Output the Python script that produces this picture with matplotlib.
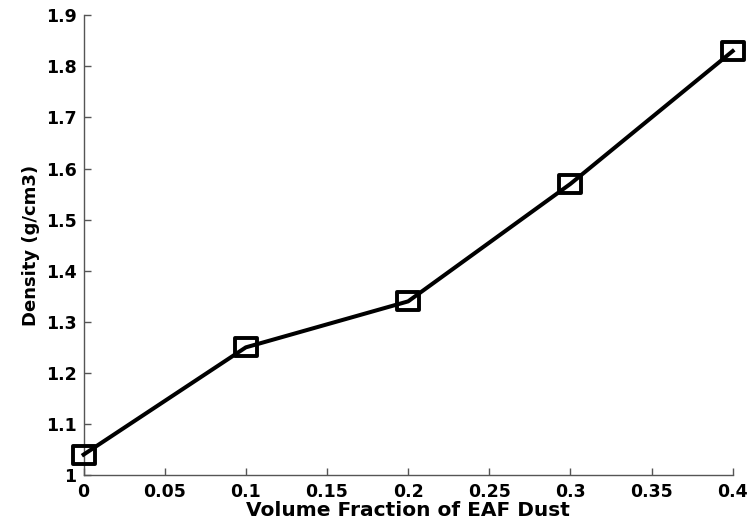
import matplotlib
matplotlib.use('Agg')
import matplotlib.pyplot as plt
from matplotlib.path import Path
from matplotlib.markers import MarkerStyle

plt.rcParams['font.family'] = ['DejaVu Sans']
plt.rcParams['font.weight'] = 'bold'

# --- data ---
volume_fraction = [0.0, 0.1, 0.2, 0.3, 0.4]
density = [1.04, 1.25, 1.34, 1.57, 1.83]
x_ticks = [0, 0.05, 0.1, 0.15, 0.2, 0.25, 0.3, 0.35, 0.4]
x_tick_labels = ['0', '0.05', '0.1', '0.15', '0.2', '0.25', '0.3', '0.35', '0.4']
y_ticks = [1.0, 1.1, 1.2, 1.3, 1.4, 1.5, 1.6, 1.7, 1.8, 1.9]
y_tick_labels = ['1', '1.1', '1.2', '1.3', '1.4', '1.5', '1.6', '1.7', '1.8', '1.9']

# the reference squares are a bit wider than tall, with sharp corners
box = Path([(-1.25, -1), (1.25, -1), (1.25, 1), (-1.25, 1), (-1.25, -1)],
           [Path.MOVETO, Path.LINETO, Path.LINETO, Path.LINETO, Path.CLOSEPOLY])
box_marker = MarkerStyle(box, joinstyle='miter')

fig = plt.figure(figsize=(7.53, 5.29), dpi=100)
ax = fig.add_axes([0.111, 0.102, 0.862, 0.869])

ax.plot(volume_fraction, density, color='black', linewidth=2.9,
        marker=box_marker, markersize=16, markerfacecolor='none',
        markeredgecolor='black', markeredgewidth=2.8, clip_on=False, zorder=3)

ax.set_xlim(0, 0.4)
ax.set_ylim(1.0, 1.9)
ax.set_xticks(x_ticks)
ax.set_xticklabels(x_tick_labels)
ax.set_yticks(y_ticks)
ax.set_yticklabels(y_tick_labels)

for side in ['top', 'right']:
    ax.spines[side].set_visible(False)
for side in ['left', 'bottom']:
    ax.spines[side].set_color('#555555')
    ax.spines[side].set_linewidth(1.0)

ax.tick_params(direction='in', length=5, width=1, color='#555555',
               labelsize=12.5)
ax.tick_params(axis='x', pad=6)
ax.tick_params(axis='y', pad=5)
for lbl in ax.get_xticklabels() + ax.get_yticklabels():
    lbl.set_fontweight('bold')

ax.set_xlabel('Volume Fraction of EAF Dust', fontsize=14.5, fontweight='bold', labelpad=0)
ax.set_ylabel('Density (g/cm3)', fontsize=13, fontweight='bold', labelpad=4)

fig.savefig('out.png', dpi=100)
